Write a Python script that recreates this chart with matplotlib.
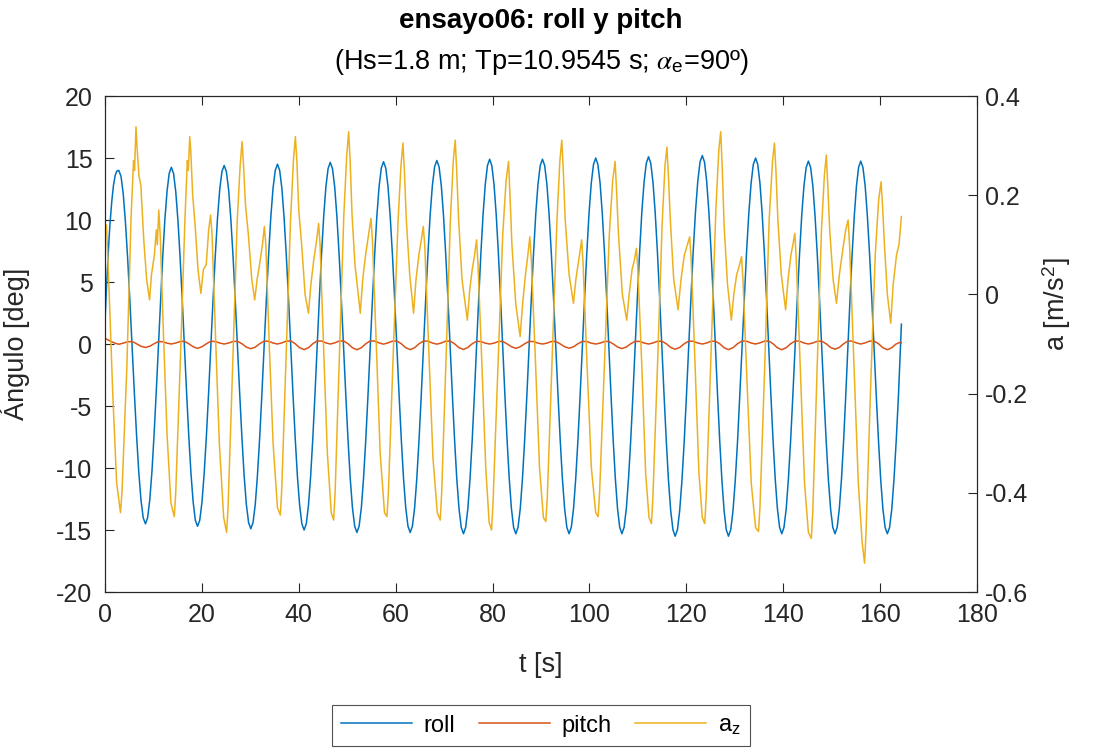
import matplotlib
matplotlib.use("Agg")
import matplotlib.pyplot as plt

# Datos (ensayo06)
# roll: muestreo fino (~0.46 s) para que las crestas salgan redondeadas
roll_t = [0.0, 0.35, 0.7, 1.05, 1.4, 1.75, 2.1, 2.45, 2.85,
          3.31, 3.77, 4.22, 4.68, 5.14, 5.6, 6.06, 6.52, 6.97, 7.43, 7.89, 8.35,
          8.8, 9.24, 9.69, 10.13, 10.58, 11.03, 11.47, 11.92, 12.36, 12.81, 13.25, 13.7,
          14.15, 14.6, 15.05, 15.5, 15.95, 16.4, 16.85, 17.3, 17.75, 18.2, 18.65, 19.1,
          19.56, 20.02, 20.47, 20.93, 21.39, 21.85, 22.31, 22.77, 23.22, 23.68, 24.14, 24.6,
          25.06, 25.52, 25.97, 26.43, 26.89, 27.35, 27.81, 28.27, 28.72, 29.18, 29.64, 30.1,
          30.56, 31.02, 31.47, 31.93, 32.39, 32.85, 33.31, 33.77, 34.22, 34.68, 35.14, 35.6,
          36.06, 36.52, 36.97, 37.43, 37.89, 38.35, 38.81, 39.27, 39.72, 40.18, 40.64, 41.1,
          41.55, 42.0, 42.45, 42.9, 43.35, 43.8, 44.25, 44.7, 45.15, 45.6, 46.05, 46.5,
          46.96, 47.42, 47.87, 48.33, 48.79, 49.25, 49.71, 50.17, 50.62, 51.08, 51.54, 52.0,
          52.46, 52.92, 53.37, 53.83, 54.29, 54.75, 55.21, 55.67, 56.12, 56.58, 57.04, 57.5,
          57.96, 58.42, 58.87, 59.33, 59.79, 60.25, 60.71, 61.17, 61.62, 62.08, 62.54, 63.0,
          63.46, 63.92, 64.37, 64.83, 65.29, 65.75, 66.21, 66.67, 67.12, 67.58, 68.04, 68.5,
          68.96, 69.42, 69.87, 70.33, 70.79, 71.25, 71.71, 72.17, 72.62, 73.08, 73.54, 74.0,
          74.45, 74.9, 75.35, 75.8, 76.25, 76.7, 77.15, 77.6, 78.05, 78.5, 78.95, 79.4,
          79.85, 80.3, 80.75, 81.2, 81.65, 82.1, 82.55, 83.0, 83.45, 83.9, 84.35, 84.8,
          85.26, 85.72, 86.17, 86.63, 87.09, 87.55, 88.01, 88.47, 88.92, 89.38, 89.84, 90.3,
          90.76, 91.22, 91.67, 92.13, 92.59, 93.05, 93.51, 93.97, 94.42, 94.88, 95.34, 95.8,
          96.26, 96.72, 97.17, 97.63, 98.09, 98.55, 99.01, 99.47, 99.92, 100.38, 100.84, 101.3,
          101.75, 102.2, 102.65, 103.1, 103.55, 104.0, 104.45, 104.9, 105.35, 105.8, 106.25, 106.7,
          107.16, 107.62, 108.07, 108.53, 108.99, 109.45, 109.91, 110.37, 110.82, 111.28, 111.74, 112.2,
          112.66, 113.12, 113.57, 114.03, 114.49, 114.95, 115.41, 115.87, 116.32, 116.78, 117.24, 117.7,
          118.17, 118.63, 119.1, 119.57, 120.03, 120.5, 120.97, 121.43, 121.9, 122.37, 122.83, 123.3,
          123.75, 124.2, 124.65, 125.1, 125.55, 126.0, 126.45, 126.9, 127.35, 127.8, 128.25, 128.7,
          129.17, 129.63, 130.1, 130.57, 131.03, 131.5, 131.97, 132.43, 132.9, 133.37, 133.83, 134.3,
          134.75, 135.2, 135.65, 136.1, 136.55, 137.0, 137.45, 137.9, 138.35, 138.8, 139.25, 139.7,
          140.16, 140.62, 141.07, 141.53, 141.99, 142.45, 142.91, 143.37, 143.82, 144.28, 144.74, 145.2,
          145.66, 146.12, 146.57, 147.03, 147.49, 147.95, 148.41, 148.87, 149.32, 149.78, 150.24, 150.7,
          151.14, 151.58, 152.03, 152.47, 152.91, 153.35, 153.79, 154.23, 154.68, 155.12, 155.56, 156.0,
          156.46, 156.92, 157.37, 157.83, 158.29, 158.75, 159.21, 159.67, 160.12, 160.58, 161.04, 161.5,
          161.96, 162.42, 162.87, 163.33, 163.79, 164.2, 164.4]

roll = [1.8, 4.9, 7.6, 9.8, 11.5, 12.8, 13.6, 13.95, 14.0,
        13.52, 12.09, 9.82, 6.88, 3.44, -0.25, -3.94, -7.38, -10.32, -12.59, -14.02, -14.5,
        -14.01, -12.57, -10.29, -7.31, -3.85, -0.13, 3.6, 7.06, 10.04, 12.32, 13.76, 14.25,
        13.76, 12.31, 10.01, 7.01, 3.52, -0.23, -3.97, -7.46, -10.46, -12.76, -14.21, -14.7,
        -14.21, -12.75, -10.44, -7.43, -3.92, -0.15, 3.62, 7.13, 10.14, 12.45, 13.91, 14.4,
        13.9, 12.44, 10.11, 7.08, 3.54, -0.25, -4.04, -7.58, -10.61, -12.94, -14.4, -14.9,
        -14.4, -12.93, -10.59, -7.55, -4.01, -0.2, 3.61, 7.15, 10.19, 12.53, 14.0, 14.5,
        14.0, 12.52, 10.18, 7.13, 3.57, -0.25, -4.07, -7.63, -10.68, -13.02, -14.5, -15.0,
        -14.5, -13.02, -10.66, -7.59, -4.02, -0.18, 3.67, 7.24, 10.31, 12.67, 14.15, 14.65,
        14.14, 12.65, 10.28, 7.19, 3.59, -0.28, -4.14, -7.74, -10.83, -13.2, -14.69, -15.2,
        -14.69, -13.2, -10.82, -7.73, -4.12, -0.25, 3.62, 7.23, 10.32, 12.7, 14.19, 14.7,
        14.19, 12.7, 10.32, 7.23, 3.62, -0.25, -4.12, -7.73, -10.82, -13.2, -14.69, -15.2,
        -14.69, -13.19, -10.81, -7.7, -4.09, -0.2, 3.69, 7.3, 10.41, 12.79, 14.29, 14.8,
        14.29, 12.78, 10.39, 7.28, 3.65, -0.25, -4.15, -7.78, -10.89, -13.28, -14.79, -15.3,
        -14.79, -13.28, -10.88, -7.75, -4.11, -0.2, 3.71, 7.35, 10.48, 12.88, 14.39, 14.9,
        14.39, 12.88, 10.48, 7.35, 3.71, -0.2, -4.11, -7.75, -10.88, -13.28, -14.79, -15.3,
        -14.79, -13.28, -10.88, -7.75, -4.11, -0.2, 3.71, 7.35, 10.48, 12.88, 14.39, 14.9,
        14.39, 12.88, 10.48, 7.35, 3.71, -0.2, -4.11, -7.75, -10.88, -13.28, -14.79, -15.3,
        -14.78, -13.27, -10.86, -7.73, -4.07, -0.15, 3.77, 7.43, 10.56, 12.97, 14.48, 15.0,
        14.48, 12.97, 10.56, 7.43, 3.77, -0.15, -4.07, -7.73, -10.86, -13.27, -14.78, -15.3,
        -14.78, -13.26, -10.85, -7.7, -4.04, -0.1, 3.84, 7.5, 10.65, 13.06, 14.58, 15.1,
        14.58, 13.05, 10.62, 7.45, 3.76, -0.2, -4.16, -7.85, -11.02, -13.45, -14.98, -15.5,
        -14.98, -13.44, -11.0, -7.83, -4.13, -0.15, 3.83, 7.53, 10.7, 13.14, 14.68, 15.2,
        14.68, 13.14, 10.7, 7.53, 3.83, -0.15, -4.13, -7.83, -11.0, -13.44, -14.98, -15.5,
        -14.98, -13.46, -11.03, -7.88, -4.2, -0.25, 3.7, 7.38, 10.53, 12.96, 14.48, 15.0,
        14.48, 12.97, 10.56, 7.43, 3.77, -0.15, -4.07, -7.73, -10.86, -13.27, -14.78, -15.3,
        -14.79, -13.29, -10.9, -7.79, -4.17, -0.28, 3.62, 7.24, 10.35, 12.74, 14.24, 14.75,
        14.24, 12.74, 10.35, 7.24, 3.62, -0.28, -4.17, -7.79, -10.9, -13.29, -14.79, -15.3,
        -14.79, -13.29, -10.9, -7.79, -4.17, -0.28, 3.62, 7.24, 10.35, 12.74, 14.24, 14.75,
        14.24, 12.74, 10.35, 7.24, 3.62, -0.28, -4.17, -7.79, -10.9, -13.29, -14.79, -15.3,
        -14.79, -13.29, -10.9, -7.79, -4.17, -0.3, 1.6]

# pitch: muestreo mas grueso
pitch_t = [0.0, 0.7, 1.4, 2.1, 2.85,
           3.77, 4.68, 5.6, 6.52, 7.43, 8.35,
           9.24, 10.13, 11.03, 11.92, 12.81, 13.7,
           14.6, 15.5, 16.4, 17.3, 18.2, 19.1,
           20.02, 20.93, 21.85, 22.77, 23.68, 24.6,
           25.52, 26.43, 27.35, 28.27, 29.18, 30.1,
           31.02, 31.93, 32.85, 33.77, 34.68, 35.6,
           36.52, 37.43, 38.35, 39.27, 40.18, 41.1,
           42.0, 42.9, 43.8, 44.7, 45.6, 46.5,
           47.42, 48.33, 49.25, 50.17, 51.08, 52.0,
           52.92, 53.83, 54.75, 55.67, 56.58, 57.5,
           58.42, 59.33, 60.25, 61.17, 62.08, 63.0,
           63.92, 64.83, 65.75, 66.67, 67.58, 68.5,
           69.42, 70.33, 71.25, 72.17, 73.08, 74.0,
           74.9, 75.8, 76.7, 77.6, 78.5, 79.4,
           80.3, 81.2, 82.1, 83.0, 83.9, 84.8,
           85.72, 86.63, 87.55, 88.47, 89.38, 90.3,
           91.22, 92.13, 93.05, 93.97, 94.88, 95.8,
           96.72, 97.63, 98.55, 99.47, 100.38, 101.3,
           102.2, 103.1, 104.0, 104.9, 105.8, 106.7,
           107.62, 108.53, 109.45, 110.37, 111.28, 112.2,
           113.12, 114.03, 114.95, 115.87, 116.78, 117.7,
           118.63, 119.57, 120.5, 121.43, 122.37, 123.3,
           124.2, 125.1, 126.0, 126.9, 127.8, 128.7,
           129.63, 130.57, 131.5, 132.43, 133.37, 134.3,
           135.2, 136.1, 137.0, 137.9, 138.8, 139.7,
           140.62, 141.53, 142.45, 143.37, 144.28, 145.2,
           146.12, 147.03, 147.95, 148.87, 149.78, 150.7,
           151.58, 152.47, 153.35, 154.23, 155.12, 156.0,
           156.92, 157.83, 158.75, 159.67, 160.58, 161.5,
           162.4, 163.3, 164.2, 164.4]

pitch = [0.45, 0.32, 0.18, 0.06, -0.02,
         0.07, 0.18, 0.2, 0.02, -0.18, -0.28,
         -0.18, 0.02, 0.2, 0.18, 0.07, 0.0,
         0.08, 0.2, 0.22, 0.02, -0.22, -0.35,
         -0.22, 0.02, 0.22, 0.2, 0.08, 0.0,
         0.08, 0.2, 0.22, 0.02, -0.25, -0.38,
         -0.25, 0.02, 0.23, 0.22, 0.08, 0.0,
         0.09, 0.24, 0.25, 0.02, -0.3, -0.45,
         -0.3, 0.02, 0.25, 0.24, 0.09, 0.0,
         0.09, 0.24, 0.25, 0.02, -0.3, -0.46,
         -0.3, 0.02, 0.25, 0.24, 0.09, -0.01,
         0.09, 0.23, 0.24, 0.02, -0.3, -0.45,
         -0.3, 0.02, 0.24, 0.23, 0.08, -0.01,
         0.08, 0.23, 0.24, 0.01, -0.3, -0.44,
         -0.28, 0.02, 0.22, 0.2, 0.07, 0.0,
         0.07, 0.2, 0.21, 0.01, -0.22, -0.35,
         -0.22, 0.02, 0.21, 0.2, 0.07, 0.0,
         0.07, 0.2, 0.21, 0.01, -0.22, -0.34,
         -0.22, 0.02, 0.21, 0.2, 0.07, 0.0,
         0.07, 0.2, 0.21, 0.01, -0.24, -0.37,
         -0.24, 0.02, 0.22, 0.21, 0.08, 0.0,
         0.08, 0.22, 0.23, 0.02, -0.28, -0.42,
         -0.28, 0.02, 0.23, 0.22, 0.08, 0.0,
         0.08, 0.22, 0.23, 0.02, -0.3, -0.45,
         -0.3, 0.02, 0.24, 0.23, 0.08, 0.0,
         0.09, 0.23, 0.24, 0.02, -0.3, -0.46,
         -0.3, 0.02, 0.24, 0.23, 0.08, 0.0,
         0.08, 0.22, 0.23, 0.02, -0.28, -0.42,
         -0.28, 0.02, 0.24, 0.23, 0.09, 0.0,
         0.09, 0.23, 0.24, 0.02, -0.3, -0.46,
         -0.3, 0.0, 0.15, 0.1]

az_t = [0.0, 0.3, 0.8, 1.6, 2.4,
        3.2, 3.5, 4.5, 5.4, 5.9, 6.1, 6.4, 6.6, 7.0, 7.4, 8.0, 8.6, 9.2, 9.6, 10.2, 10.6, 10.8, 11.1, 11.4, 12.0, 12.8, 13.6,
        14.3, 14.6, 15.6, 16.5, 17.0, 17.2, 17.5, 17.7, 18.1, 18.6, 19.2, 19.8, 20.3, 20.9, 21.4, 21.8, 22.1, 22.8, 23.6, 24.5,
        25.1, 25.4, 26.4, 27.3, 27.9, 28.3, 28.6, 29.0, 29.6, 30.3, 30.9, 31.4, 31.9, 32.5, 32.9, 33.2, 33.9, 34.7, 35.6,
        36.2, 36.5, 37.4, 38.3, 38.9, 39.3, 39.6, 40.0, 40.6, 41.3, 42.0, 42.5, 43.1, 43.7, 44.1, 44.4, 45.1, 45.9, 46.7,
        47.2, 47.5, 48.4, 49.3, 49.9, 50.3, 50.6, 51.0, 51.6, 52.7, 53.2, 53.8, 54.4, 54.9, 55.2, 56.0, 56.8, 57.7,
        58.2, 58.5, 59.5, 60.5, 61.1, 61.5, 61.8, 62.2, 62.9, 63.7, 64.2, 64.8, 65.3, 65.7, 66.0, 66.8, 67.7, 68.6,
        69.2, 69.5, 70.4, 71.3, 71.9, 72.3, 72.6, 73.0, 73.7, 74.8, 75.3, 75.8, 76.3, 76.7, 77.0, 77.8, 78.6, 79.3,
        79.8, 80.1, 81.1, 82.1, 82.8, 83.3, 83.6, 84.0, 84.8, 85.7, 86.2, 86.8, 87.3, 87.7, 88.0, 88.8, 89.7, 90.5,
        91.0, 91.3, 92.3, 93.3, 93.9, 94.3, 94.6, 95.0, 95.8, 96.7, 97.2, 97.8, 98.4, 98.7, 99.5, 100.4, 101.3,
        101.8, 102.1, 103.1, 104.1, 104.8, 105.3, 105.6, 106.0, 106.8, 107.7, 108.2, 108.8, 109.3, 109.7, 110.0, 110.8, 111.6, 112.3,
        112.8, 113.1, 114.1, 115.0, 115.6, 116.0, 116.3, 116.7, 117.4, 118.3, 118.9, 119.6, 120.2, 120.7, 121.0, 121.8, 122.6, 123.3,
        123.8, 124.1, 125.1, 126.1, 126.7, 127.1, 127.4, 127.8, 128.5, 129.3, 129.8, 130.4, 131.0, 131.4, 131.7, 132.5, 133.4, 134.3,
        134.9, 135.2, 136.2, 137.1, 137.8, 138.2, 138.5, 138.9, 139.6, 140.5, 141.0, 141.6, 142.0, 142.4, 142.7, 143.5, 144.4, 145.2,
        145.8, 146.1, 147.0, 147.9, 148.5, 148.9, 149.2, 149.6, 150.3, 151.0, 151.6, 152.3, 152.9, 153.4, 153.7, 154.6, 155.5, 156.3,
        156.8, 157.1, 158.0, 159.0, 159.7, 160.2, 160.5, 160.9, 161.5, 162.2, 162.7, 163.4, 163.9, 164.4]

az = [0.12, 0.14, 0.02, -0.2, -0.38,
      -0.44, -0.40, -0.15, 0.16, 0.27, 0.25, 0.338, 0.30, 0.24, 0.22, 0.11, 0.03, -0.011, 0.04, 0.08, 0.13, 0.10, 0.17, 0.12, -0.06, -0.28, -0.42,
      -0.448, -0.40, -0.12, 0.15, 0.27, 0.25, 0.318, 0.29, 0.2, 0.14, 0.05, 0.002, 0.05, 0.06, 0.13, 0.16, 0.12, -0.08, -0.3, -0.45,
      -0.48, -0.43, -0.13, 0.15, 0.26, 0.308, 0.26, 0.18, 0.12, 0.03, -0.011, 0.03, 0.06, 0.1, 0.137, 0.1, -0.1, -0.3, -0.43,
      -0.445, -0.39, -0.12, 0.15, 0.27, 0.318, 0.27, 0.17, 0.10, 0.0, -0.038, 0.02, 0.07, 0.11, 0.143, 0.1, -0.1, -0.32, -0.44,
      -0.455, -0.4, -0.12, 0.16, 0.28, 0.328, 0.27, 0.16, 0.06, -0.038, 0.03, 0.08, 0.12, 0.153, 0.11, -0.1, -0.32, -0.44,
      -0.448, -0.4, -0.12, 0.15, 0.26, 0.305, 0.25, 0.15, 0.04, -0.038, 0.03, 0.08, 0.11, 0.137, 0.1, -0.1, -0.33, -0.44,
      -0.455, -0.4, -0.13, 0.15, 0.27, 0.311, 0.25, 0.15, 0.03, -0.052, 0.01, 0.05, 0.08, 0.11, 0.06, -0.14, -0.35, -0.46,
      -0.475, -0.42, -0.15, 0.12, 0.23, 0.268, 0.2, 0.1, -0.02, -0.085, -0.02, 0.04, 0.08, 0.116, 0.07, -0.12, -0.35, -0.45,
      -0.458, -0.41, -0.13, 0.15, 0.27, 0.311, 0.25, 0.15, 0.04, -0.018, 0.03, 0.07, 0.11, 0.06, -0.14, -0.35, -0.44,
      -0.448, -0.4, -0.14, 0.12, 0.23, 0.268, 0.21, 0.12, 0.0, -0.052, 0.0, 0.05, 0.07, 0.093, 0.05, -0.14, -0.36, -0.45,
      -0.462, -0.41, -0.13, 0.14, 0.26, 0.297, 0.24, 0.15, 0.03, -0.031, 0.03, 0.08, 0.1, 0.116, 0.07, -0.14, -0.36, -0.45,
      -0.462, -0.41, -0.12, 0.17, 0.29, 0.328, 0.26, 0.14, 0.02, -0.052, 0.0, 0.04, 0.06, 0.076, 0.03, -0.17, -0.38, -0.47,
      -0.478, -0.43, -0.14, 0.15, 0.27, 0.305, 0.25, 0.15, 0.04, -0.031, 0.03, 0.08, 0.1, 0.123, 0.07, -0.14, -0.38, -0.48,
      -0.492, -0.44, -0.15, 0.13, 0.24, 0.281, 0.22, 0.13, 0.03, -0.018, 0.04, 0.09, 0.13, 0.15, 0.1, -0.14, -0.38, -0.5,
      -0.542, -0.48, -0.2, 0.08, 0.19, 0.227, 0.18, 0.1, 0.0, -0.058, 0.02, 0.08, 0.1, 0.157]

izq_ticks = [-20, -15, -10, -5, 0, 5, 10, 15, 20]
der_ticks = [-0.6, -0.4, -0.2, 0, 0.2, 0.4]
der_labels = ['-0.6', '-0.4', '-0.2', '0', '0.2', '0.4']
t_ticks = [0, 20, 40, 60, 80, 100, 120, 140, 160, 180]

plt.rcParams['font.family'] = ['Liberation Sans', 'DejaVu Sans']
plt.rcParams['mathtext.fontset'] = 'stix'
plt.rcParams['axes.unicode_minus'] = False

gris = '#262626'
fig = plt.figure(figsize=(10.96, 7.53), dpi=100)
ax = fig.add_axes([0.0958, 0.2138, 0.7956, 0.6587])

l1, = ax.plot(roll_t, roll, color='#0072BD', lw=1.1, label='roll')
l2, = ax.plot(pitch_t, pitch, color='#D95319', lw=1.1, label='pitch')
ax.set_xlim(0, 180)
ax.set_ylim(-20, 20)
ax.set_xticks(t_ticks)
ax.set_yticks(izq_ticks)
ax.tick_params(direction='in', top=True, length=6.5, width=0.8, labelsize=18,
               colors=gris)
ax.tick_params(axis='x', pad=8)
ax.tick_params(axis='y', pad=9)
ax.set_xlabel('t [s]', fontsize=19.5, color=gris)
ax.xaxis.set_label_coords(0.5, -0.12)
ax.set_ylabel('Ángulo [deg]', fontsize=19.5, color=gris)
ax.yaxis.set_label_coords(-0.086, 0.5)

ax2 = ax.twinx()
l3, = ax2.plot(az_t, az, color='#EDB120', lw=1.1, label='a$_\\mathregular{z}$')
ax2.set_ylim(-0.6, 0.4)
ax2.set_yticks(der_ticks)
ax2.set_yticklabels(der_labels)
ax2.tick_params(direction='in', length=6.5, width=0.8, labelsize=18, colors=gris, pad=6)
ax2.set_ylabel('a [m/s$^\\mathregular{2}$]', fontsize=19.5, color=gris)
ax2.yaxis.set_label_coords(1.072, 0.58)

for a in (ax, ax2):
    for s in a.spines.values():
        s.set_color(gris)
        s.set_linewidth(0.8)

fig.text(0.4936, 0.972, 'ensayo06: roll y pitch', ha='center', va='center',
         fontsize=20, fontweight='bold', color='black')
fig.text(0.4936, 0.918, '(Hs=1.8 m; Tp=10.9545 s; $\\alpha_\\mathregular{e}$=90º)',
         ha='center', va='center', fontsize=19.5, color='black')

leg = fig.legend(handles=[l1, l2, l3], loc='center', ncol=3,
                 bbox_to_anchor=(0.4936, 0.036), fontsize=17, frameon=True,
                 fancybox=False, handlelength=3.0, columnspacing=1.0,
                 handletextpad=0.5, borderpad=0.4)
leg.get_frame().set_edgecolor(gris)
leg.get_frame().set_linewidth(0.8)

fig.savefig('out.png', dpi=100)
